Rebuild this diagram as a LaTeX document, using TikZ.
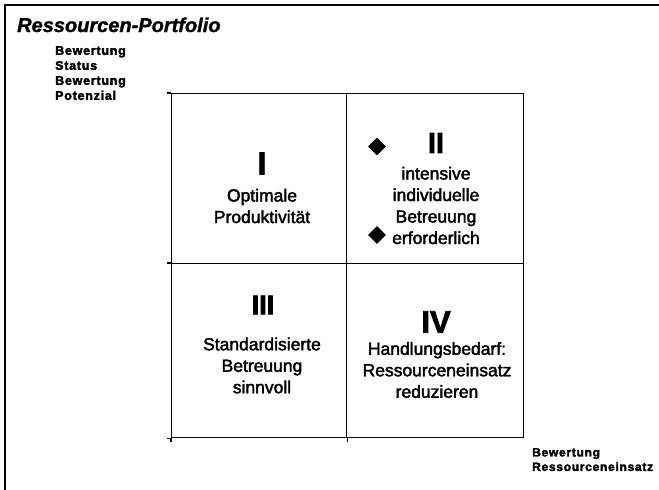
\documentclass[tikz,border=0pt]{standalone}
\usepackage{fontspec}
\setmainfont{Liberation Sans}
\newfontfamily\bodyfont[UprightFeatures={FakeBold=2.2}]{Liberation Sans}
\newfontfamily\numfont[BoldFeatures={FakeBold=2.5}]{Liberation Sans}
\newfontfamily\labelfont[LetterSpace=6,BoldFeatures={FakeBold=2.5}]{Liberation Sans}
\newfontfamily\titlefont[BoldItalicFeatures={FakeBold=1.5}]{Liberation Sans}
\usetikzlibrary{shapes.geometric}
\tikzset{
  quad/.style={draw, line width=1.4pt, minimum width=#1, inner sep=0pt, anchor=north west},
  quadtext/.style={align=center, font=\bodyfont\fontsize{17.5}{21.5}\selectfont, inner sep=0pt},
  numeral/.style={font=\numfont\bfseries\fontsize{#1}{#1}\selectfont, inner sep=0pt},
  axislabel/.style={align=left, anchor=north west, inner sep=0pt, font=\labelfont\bfseries\fontsize{12.5}{15}\selectfont},
  bullet/.style={diamond, fill=black, inner sep=0pt, minimum width=18pt, minimum height=18pt},
  tick/.style={line width=1.4pt}
}
\begin{document}
\begin{tikzpicture}[x=1pt,y=-1pt]
\useasboundingbox (0,0) rectangle (659,490);
% outer frame (left and top only)
\coordinate (fbl) at (5,490);
\coordinate (ftl) at (5,5);
\coordinate (ftr) at (659,5);
\draw[line width=1.3pt] (fbl) -- (ftl) -- (ftr);
% title
\node[anchor=base west, inner sep=0pt, font=\titlefont\bfseries\itshape\fontsize{20}{20}\selectfont] (title) at (17,32) {Ressourcen-Portfolio};
% y axis label
\node[axislabel] (ylab) at (55,46) {Bewertung\\Status\\Bewertung\\Potenzial};
% quadrants
\node[quad=175pt, minimum height=170pt] (q1) at (171,93) {};
\node[quad=177pt, minimum height=170pt] (q2) at (346,93) {};
\node[quad=175pt, minimum height=174pt] (q3) at (171,263) {};
\node[quad=177pt, minimum height=174pt] (q4) at (346,263) {};
% ticks
\draw[tick] ([xshift=-4pt]q1.north west) -- (q1.north west);
\draw[tick] ([xshift=-4pt]q3.north west) -- (q3.north west);
\draw[tick] ([xshift=-4pt]q3.south west) -- (q3.south west);
\draw[tick] ([yshift=-4pt]q3.south west) -- (q3.south west);
\draw[tick] ([yshift=-4pt]q3.south east) -- (q3.south east);
% x axis label
\node[axislabel, font=\labelfont\bfseries\fontsize{12}{14.5}\selectfont] (xlab) at (532,448) {Bewertung\\Ressourceneinsatz};
% quadrant I
\node[numeral=32] (n1) at (262,163.5) {I};
\node[quadtext] (t1) at (262,206) {Optimale\\Produktivität};
% quadrant II
\node[numeral=29] (n2) at (436,143) {II};
\node[quadtext] (t2) at (436,205.5) {intensive\\individuelle\\Betreuung\\erforderlich};
\node[bullet] (d1) at (377,146.5) {};
\node[bullet] (d2) at (377,235) {};
% quadrant III
\node[numeral=27] (n3) at (263,305) {III};
\node[quadtext] (t3) at (262,365.5) {Standardisierte\\Betreuung\\sinnvoll};
% quadrant IV
\node[numeral=31] (n4) at (436,322) {IV};
\node[quadtext] (t4) at (437,370) {Handlungsbedarf:\\Ressourceneinsatz\\reduzieren};
\end{tikzpicture}
\end{document}
